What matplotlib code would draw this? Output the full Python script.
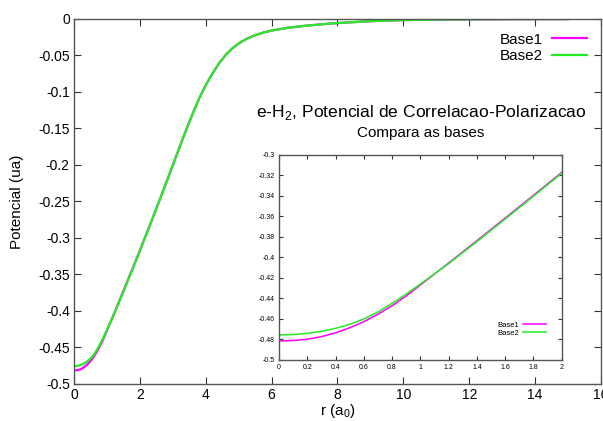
import matplotlib
matplotlib.use("Agg")
from matplotlib import pyplot as plt
from matplotlib.ticker import FormatStrFormatter
import numpy as np

plt.rcParams["font.family"] = ["Liberation Sans", "DejaVu Sans"]
plt.rcParams["mathtext.fontset"] = "custom"
plt.rcParams["mathtext.rm"] = "Liberation Sans"

# r in bohr radii
r = [0.0, 0.1, 0.2, 0.3, 0.4, 0.5, 0.6, 0.7, 0.8, 0.9, 1.0, 1.2, 1.4, 1.6,
     1.8, 2.0, 2.2, 2.4, 2.6, 2.8, 3.0, 3.2, 3.4, 3.6, 3.8, 4.0, 4.2, 4.4,
     4.6, 4.8, 5.0, 5.25, 5.5, 5.75, 6.0, 6.5, 7.0, 7.5, 8.0, 9.0, 10.0,
     11.0, 12.0, 13.0, 14.0, 15.0]

# correlation-polarization potential (a.u.), r <= 2 from the zoomed view
base1 = [-0.4815, -0.4810, -0.4798, -0.4772, -0.4735, -0.4686, -0.4626,
         -0.4554, -0.4470, -0.4375, -0.4268, -0.4054, -0.3836, -0.3616,
         -0.3394, -0.3170, -0.2944, -0.2714, -0.2480, -0.2242, -0.2002,
         -0.1762, -0.1526, -0.1300, -0.1090, -0.0906, -0.0750, -0.0610,
         -0.0495, -0.0405, -0.0335, -0.0270, -0.0222, -0.0186, -0.0158,
         -0.0120, -0.0094, -0.0073, -0.0056, -0.0030, -0.0015, -0.0009,
         -0.0005, -0.0003, -0.0002, -0.0001]
base2 = [-0.4756, -0.4752, -0.4740, -0.4720, -0.4691, -0.4652, -0.4600,
         -0.4532, -0.4447, -0.4356, -0.4259, -0.4060, -0.3845, -0.3625,
         -0.3403, -0.3178, -0.2948, -0.2714, -0.2480, -0.2242, -0.2002,
         -0.1762, -0.1526, -0.1300, -0.1090, -0.0906, -0.0750, -0.0610,
         -0.0495, -0.0405, -0.0335, -0.0270, -0.0222, -0.0186, -0.0158,
         -0.0120, -0.0094, -0.0073, -0.0056, -0.0030, -0.0015, -0.0009,
         -0.0005, -0.0003, -0.0002, -0.0001]

labels = ["Base1", "Base2"]
colors = ["#ff00ff", "#22ee22"]
main_xticks = np.arange(0, 17, 2)
main_yticks = np.round(np.arange(-0.5, 0.001, 0.05), 2) + 0.0
zoom_xticks = np.round(np.arange(0, 2.01, 0.2), 1) + 0.0
zoom_yticks = np.round(np.arange(-0.5, -0.299, 0.02), 2) + 0.0


def style_axes(ax, size, length):
    for s in ax.spines.values():
        s.set_color("#555555")
        s.set_linewidth(1.0)
    ax.tick_params(direction="in", top=True, right=True, labelsize=size,
                   length=length, color="#333333", pad=3)
    ax.yaxis.set_major_formatter(FormatStrFormatter("%g"))
    ax.xaxis.set_major_formatter(FormatStrFormatter("%g"))


fig = plt.figure(figsize=(6.03, 4.21), dpi=100)
ax = fig.add_axes([0.1227, 0.0879, 0.874, 0.867])
ax.plot(r, base1, color=colors[0], lw=1.6, label=labels[0])
ax.plot(r, base2, color=colors[1], lw=1.6, label=labels[1])
ax.set_xlim(0, 16)
ax.set_ylim(-0.5, 0)
ax.set_xticks(main_xticks)
ax.set_yticks(main_yticks)
style_axes(ax, 10, 5)
ax.set_xlabel("r (a$_0$)", fontsize=11, labelpad=0)
ax.set_ylabel("Potencial (ua)", fontsize=11, labelpad=10)
ax.legend(loc="upper right", fontsize=11, frameon=False,
          markerfirst=False, handlelength=2.3, handletextpad=0.6,
          labelspacing=0.15, borderaxespad=0.5, bbox_to_anchor=(1.0, 1.0))

fig.text(0.698, 0.733, "e-H$_2$, Potencial de Correlacao-Polarizacao",
         ha="center", va="center", fontsize=12.6)
fig.text(0.698, 0.683, "Compara as bases", ha="center", va="center",
         fontsize=11)

inset = fig.add_axes([0.4627, 0.1449, 0.4688, 0.487])
inset.plot(r, base1, color=colors[0], lw=1.1, label=labels[0])
inset.plot(r, base2, color=colors[1], lw=1.1, label=labels[1])
inset.set_xlim(0, 2)
inset.set_ylim(-0.5, -0.3)
inset.set_xticks(zoom_xticks)
inset.set_yticks(zoom_yticks)
style_axes(inset, 5, 3)
inset.legend(loc="lower right", fontsize=5.5, frameon=False,
             markerfirst=False, handlelength=3, handletextpad=0.6,
             labelspacing=0.1, bbox_to_anchor=(0.97, 0.08))

fig.savefig("out.png", dpi=100)
